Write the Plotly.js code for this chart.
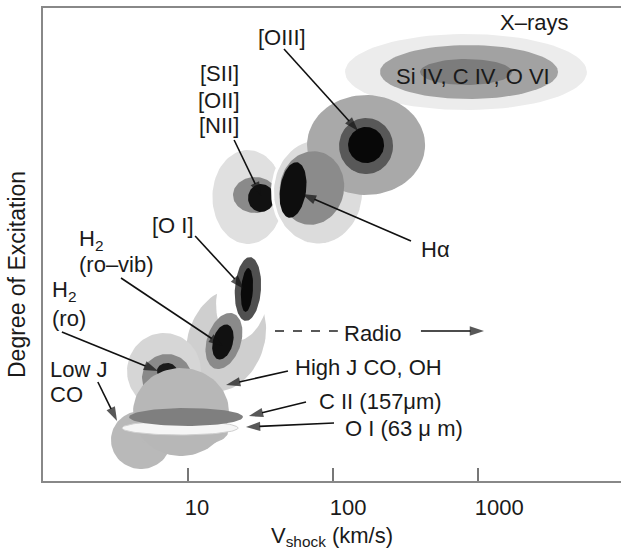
<!DOCTYPE html>
<html><head><meta charset="utf-8">
<script src="https://cdn.plot.ly/plotly-3.0.1.min.js"></script>
<style>html,body{margin:0;padding:0;background:#fff}</style>
</head><body><div id="chart" style="width:621px;height:552px"></div>
<script>
// ---- Emission regions (ellipses), in drawing order ----
const blobName   = ['xrayHalo','xrayMid','xrayCore','siiHalo','siiMid','siiCore','haHalo','oiiiHalo','haMid','haCore','oiiiRing','oiiiCore','rovibHalo','oiClear','oiHalo','oiCore','rovibMid','rovibCore','roHalo','roMid','roCore','lowJLobe','lowJBand','highJDome','oi63Band','ciiBand'];
const blobV      = [826, 867, 826, 25.9, 29.0, 31.9, 78.8, 169, 71.6, 53.0, 169, 169, 18.3, 23.9, 25.9, 25.5, 17.7, 17.4, 6.83, 7.16, 7.16, 4.74, 8.81, 8.95, 8.81, 9.69]; // km/s
const blobExc    = [409, 409, 409, 284, 286, 283, 289, 336, 293, 291, 335, 336, 141, 186, 192, 191, 140, 139, 110, 103, 110, 41, 49, 69, 53, 64];      // excitation (arb.)
const blobHalfDex= [0.834,0.614,0.317,0.245,0.152,0.090,0.314,0.407,0.221,0.090,0.186,0.124,0.262,0.179,0.090,0.041,0.117,0.069,0.255,0.172,0.069,0.207,0.331,0.331,0.400,0.393];
const blobHalfExc= [38, 27, 13, 47, 18, 14, 53, 50, 37, 28, 28, 18, 53, 46, 32, 22, 29, 18, 38, 24, 8, 29, 16, 44, 7, 9];
const blobTilt   = [0, 0, 0, 0, 0, 0, 0, 0, 10, 8, 0, 0, 20, 10, 4, 4, 18, 15, 0, 0, 0, 0, 0, 0, 0, 0];
const blobShade  = ['#ececec','#a2a2a2','#7c7c7c','#e0e0e0','#8a8a8a','#111111','#dcdcdc','#a9a9a9','#8b8b8b','#0e0e0e','#585858','#080808','#cfcfcf','#ffffff','#505050','#0a0a0a','#8a8a8a','#111111','#d6d6d6','#8a8a8a','#1a1a1a','#b9b9b9','#b9b9b9','#b7b7b7','#f6f6f6','#7f7f7f'];
const blobEdge   = ['','','','','','','#ffffff','','','','','','','','','','','','','','','','','','#cfcfcf',''];

// ---- Labels ----
const labelText = ['X–rays','Si IV, C IV, O VI','[OIII]','[SII]','[OII]','[NII]','Hα','[O I]','H<sub>2</sub>','(ro–vib)','H<sub>2</sub>','(ro)','Low J','CO','Radio','High J CO, OH','C II (157μm)','O I (63 μ m)'];
const labelV    = [2432, 924, 44.5, 16.4, 16.4, 16.4, 513, 7.88, 1.72, 1.72, 1.12, 1.12, 1.08, 1.08, 115, 53, 77.6, 117];
const labelExc  = [459, 405, 444, 408, 381, 356, 232, 256, 241, 217, 190, 163, 112, 87, 148, 114, 80, 53];
const labelAlign= ['center','center','center','center','center','center','center','center','left','left','left','left','left','left','left','left','left','left'];

// ---- Arrows (tail -> head) ----
const arrowTailV   = [45.9, 20.8, 345, 11.2, 3.45, 1.35, 2.39, 404, 48.9, 65.1, 101.6];
const arrowTailExc = [432, 341, 240, 245, 203, 149, 99, 150, 110, 79, 58];
const arrowHeadV   = [149, 31.9, 61.1, 24.3, 17.4, 6.21, 3.24, 1100, 18.3, 26.3, 25.1];
const arrowHeadExc = [350, 285, 287, 192, 135, 110, 60, 150, 96, 65, 54];
// dashed "Radio" lead
const radioDashV   = [39.8, 108];
const radioDashExc = [150, 150];

const xRangeLog = [0, 3.986];
const yRange = [0, 473];
const W = 621, H = 552, M = {l:43, r:0, t:8, b:71};
const pxPerDex = (W - M.l - M.r) / (xRangeLog[1] - xRangeLog[0]);
const pxPerExc = (H - M.t - M.b) / (yRange[1] - yRange[0]);

const traces = [];
for (let i = 0; i < blobName.length; i++) {
  const a = blobHalfDex[i] * pxPerDex, b = blobHalfExc[i] * pxPerExc;
  const th = blobTilt[i] * Math.PI / 180;
  const xs = [], ys = [];
  for (let k = 0; k <= 90; k++) {
    const t = 2 * Math.PI * k / 90;
    const u = a * Math.cos(t), w = b * Math.sin(t);
    const sx = u * Math.cos(th) + w * Math.sin(th);
    const sy = -u * Math.sin(th) + w * Math.cos(th);
    xs.push(Math.pow(10, Math.log10(blobV[i]) + sx / pxPerDex));
    ys.push(blobExc[i] + sy / pxPerExc);
  }
  traces.push({type:'scatter', mode:'lines', x:xs, y:ys, fill:'toself', fillcolor:blobShade[i],
    line:{width: blobEdge[i] ? (blobEdge[i] === '#ffffff' ? 3 : 1) : 0, color: blobEdge[i] || blobShade[i]},
    hoverinfo:'skip', showlegend:false, name:blobName[i]});
}
traces.push({type:'scatter', mode:'lines', x:radioDashV, y:radioDashExc,
  line:{color:'#222', width:1.6, dash:'dash'}, hoverinfo:'skip', showlegend:false});
for (let i = 0; i < arrowHeadV.length; i++) {
  traces.push({type:'scatter', mode:'lines+markers', x:[arrowTailV[i], arrowHeadV[i]], y:[arrowTailExc[i], arrowHeadExc[i]],
    line:{color:'#111', width:1.6},
    marker:{symbol:['circle','arrow'], size:[0, 15], color:'#111', angleref:'previous', line:{width:0}},
    hoverinfo:'skip', showlegend:false});
}

const annotations = [];
for (let i = 0; i < labelText.length; i++) {
  annotations.push({x:Math.log10(labelV[i]), y:labelExc[i], xref:'x', yref:'y', text:labelText[i],
    showarrow:false, xanchor:labelAlign[i], yanchor:'middle', font:{size:22, color:'#1a1a1a'}});
}
annotations.push({xref:'paper', yref:'y', x:(17 - M.l) / (W - M.l - M.r), y:206, text:'Degree of Excitation',
  textangle:-90, showarrow:false, xanchor:'center', yanchor:'middle', font:{size:23, color:'#1a1a1a'}});

const layout = {
  width:W, height:H, margin:{l:M.l, r:M.r, t:M.t, b:M.b, pad:0},
  paper_bgcolor:'#ffffff', plot_bgcolor:'#ffffff', showlegend:false,
  font:{family:'Liberation Sans, Arial, sans-serif', size:22, color:'#1a1a1a'},
  xaxis:{type:'log', range:xRangeLog, tickvals:[10,100,1000], ticktext:['10','100','1000'],
    ticks:'inside', ticklen:13, tickwidth:1.5, tickcolor:'#777', showline:true, linecolor:'#888', linewidth:2,
    mirror:true, showgrid:false, zeroline:false, ticklabelposition:'outside right', ticklabelshift:-5,
    ticklabelstandoff:6, tickfont:{size:22, color:'#1a1a1a'},
    title:{text:'V<sub>shock</sub> (km/s)', font:{size:22, color:'#1a1a1a'}, standoff:8}, fixedrange:true},
  yaxis:{range:yRange, showticklabels:false, ticks:'', showline:true, linecolor:'#888', linewidth:2,
    showgrid:false, zeroline:false, fixedrange:true},
  annotations:annotations
};
Plotly.newPlot('chart', traces, layout, {displayModeBar:false, staticPlot:true});
</script></body></html>
